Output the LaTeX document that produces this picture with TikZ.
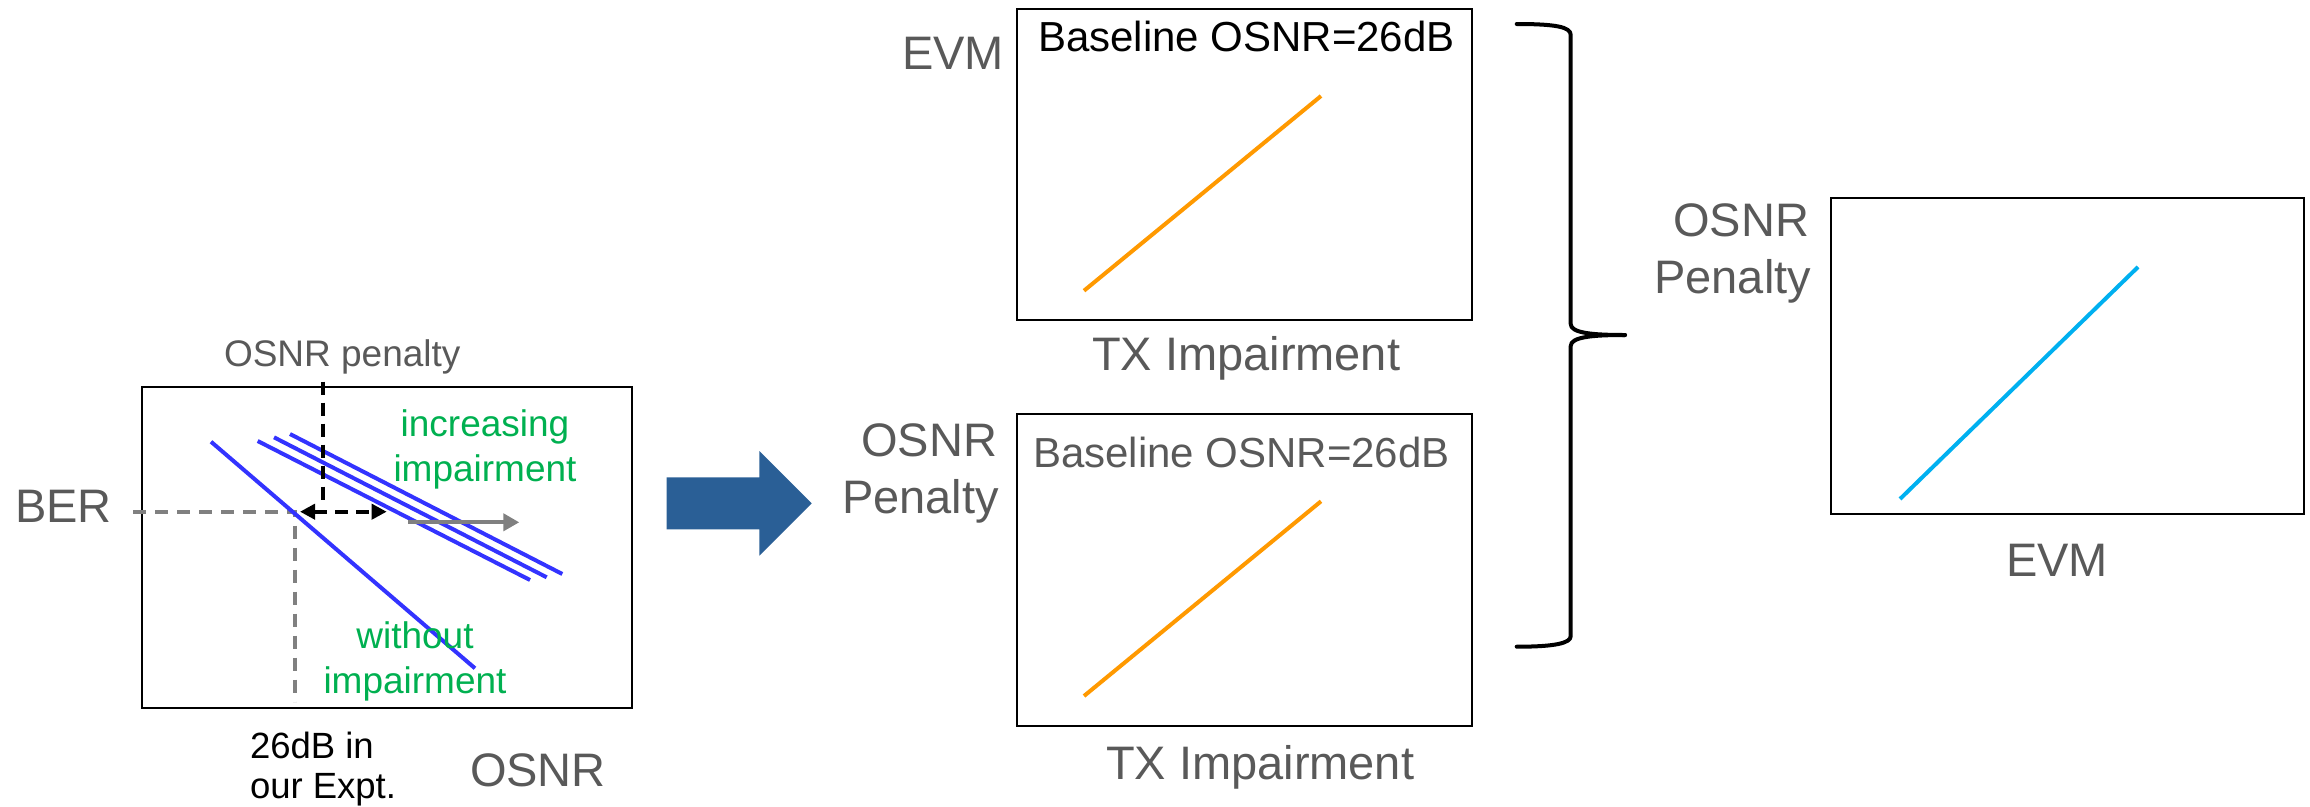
\documentclass[tikz,border=0pt]{standalone}
\usepackage{fontspec}
\setmainfont{Liberation Sans}
\usetikzlibrary{arrows.meta}
\definecolor{labelgray}{RGB}{89,89,89}
\definecolor{guidegray}{RGB}{128,128,128}
\definecolor{curveblue}{RGB}{51,51,255}
\definecolor{notegreen}{RGB}{0,176,80}
\definecolor{trendorange}{RGB}{255,153,0}
\definecolor{trendcyan}{RGB}{0,176,240}
\definecolor{flowblue}{RGB}{42,95,150}

\begin{document}
\begin{tikzpicture}[x=1pt,y=-1pt,
  frame/.style={draw=black, line width=2pt, inner sep=0pt, outer sep=0pt},
  txt/.style={inner sep=0pt, outer sep=0pt},
  axislabel/.style={txt, text=labelgray, font=\fontsize{47}{56}\selectfont},
  smalllabel/.style={txt, text=labelgray, font=\fontsize{37}{44}\selectfont},
  note/.style={txt, text=notegreen, font=\fontsize{37}{44}\selectfont},
  expt/.style={txt, text=black, font=\fontsize{36.5}{44}\selectfont},
  baseline/.style={txt, font=\fontsize{42}{50}\selectfont},
  curve/.style={draw=curveblue, line width=4pt},
  trend/.style={line width=4pt},
  guide/.style={draw=guidegray, line width=4pt, dash pattern=on 13pt off 9pt},
  marker/.style={draw=black, line width=4pt, dash pattern=on 13pt off 8pt},
  bracepath/.style={draw=black, line width=4pt, line cap=round, line join=round}
]
\useasboundingbox (0,0) rectangle (2310,806);

% ---------------- BER versus OSNR sketch ----------------
\node[frame, minimum width=490pt, minimum height=321.6pt] (berplot) at (386.7,547.5) {};

\coordinate (refpt) at (295,511.7);
\coordinate (berleft) at (133,511.7);
\coordinate (osnrfoot) at (295,701.7);
\draw[guide] (berleft) -- (refpt) -- (osnrfoot);

% BER curves: reference and with growing impairment
\coordinate (a1) at (211,441.7);   \coordinate (a2) at (475,668.3);
\coordinate (b1) at (257.7,441);   \coordinate (b2) at (530,580);
\coordinate (c1) at (274,437.3);   \coordinate (c2) at (546.7,577.3);
\coordinate (d1) at (290,434);     \coordinate (d2) at (562.3,574);
\draw[curve] (a1) -- (a2);
\draw[curve] (b1) -- (b2);
\draw[curve] (c1) -- (c2);
\draw[curve] (d1) -- (d2);

% penalty marker
\coordinate (pentop) at (323.3,381.7);
\coordinate (penbot) at (323.3,501.7);
\coordinate (penl) at (300,511.7);
\coordinate (penr) at (386.7,511.7);
\draw[marker] (pentop) -- (penbot);
\draw[marker, {Triangle[length=15pt,width=15pt]}-{Triangle[length=15pt,width=15pt]}] (penl) -- (penr);

% shift direction
\coordinate (shifta) at (408,522.3);
\coordinate (shiftb) at (519.3,522.3);
\draw[draw=guidegray, line width=4pt, -{Triangle[length=16pt,width=17pt]}] (shifta) -- (shiftb);

\node[smalllabel, anchor=base west] (penlabel) at (224,366) {OSNR penalty};
\node[axislabel, anchor=base west] (berlabel) at (15,522.7) {BER};
\node[note, anchor=base] (incr1) at (485,436) {increasing};
\node[note, anchor=base] (incr2) at (485,481) {impairment};
\node[note, anchor=base] (wo1) at (415,648.3) {without};
\node[note, anchor=base] (wo2) at (415,693.3) {impairment};
\node[expt, anchor=base west] (expt1) at (250,758.3) {26dB in};
\node[expt, anchor=base west] (expt2) at (250,798.3) {our Expt.};
\node[axislabel, anchor=base west] (osnrx) at (470,786.7) {OSNR};

% ---------------- block arrow ----------------
\fill[flowblue] (666.7,477.3) -- (759.3,477.3) -- (759.3,451) -- (811.7,503.3)
  -- (759.3,555.7) -- (759.3,529.3) -- (666.7,529.3) -- cycle;

% ---------------- EVM versus TX impairment ----------------
\node[frame, minimum width=454.7pt, minimum height=310.7pt] (evmplot) at (1244.65,164.65) {};
\coordinate (e1) at (1084,290.7); \coordinate (e2) at (1321,96);
\draw[trend, draw=trendorange] (e1) -- (e2);
\node[axislabel, anchor=base east] (evmy) at (1004,69.3) {EVM};
\node[baseline, text=black, anchor=base west] (evmbase) at (1038,51.7) {Baseline OSNR=26dB};
\node[axislabel, anchor=base west] (evmx) at (1092,370.7) {TX Impairment};

% ---------------- OSNR penalty versus TX impairment ----------------
\node[frame, minimum width=454.7pt, minimum height=311.7pt] (penplot) at (1244.65,569.85) {};
\coordinate (p1) at (1084,696); \coordinate (p2) at (1321,501.3);
\draw[trend, draw=trendorange] (p1) -- (p2);
\node[axislabel, anchor=base east] (peny1) at (997,456) {OSNR};
\node[axislabel, anchor=base east] (peny2) at (999,513.3) {Penalty};
\node[baseline, text=labelgray, anchor=base west] (penbase) at (1033,467.3) {Baseline OSNR=26dB};
\node[axislabel, anchor=base west] (penx) at (1106,779) {TX Impairment};

% ---------------- combining brace ----------------
\coordinate (brtop) at (1516.7,24);
\coordinate (brtip) at (1625,335);
\coordinate (brbot) at (1516.7,646.7);
\draw[bracepath] (brtop) .. controls (1556,24) and (1570.7,27) .. (1570.7,35)
  -- (1570.7,324) .. controls (1570.7,333) and (1592,335) .. (brtip);
\draw[bracepath] (brtip) .. controls (1592,335) and (1570.7,337) .. (1570.7,346)
  -- (1570.7,636) .. controls (1570.7,643) and (1556,646.7) .. (brbot);

% ---------------- OSNR penalty versus EVM ----------------
\node[frame, minimum width=473pt, minimum height=316pt] (resplot) at (2067.5,356) {};
\coordinate (r1) at (1900,499); \coordinate (r2) at (2138,267);
\draw[trend, draw=trendcyan] (r1) -- (r2);
\node[axislabel, anchor=base east] (resy1) at (1809,236) {OSNR};
\node[axislabel, anchor=base east] (resy2) at (1811,293.3) {Penalty};
\node[axislabel, anchor=base west] (resx) at (2006,576) {EVM};
\end{tikzpicture}
\end{document}
